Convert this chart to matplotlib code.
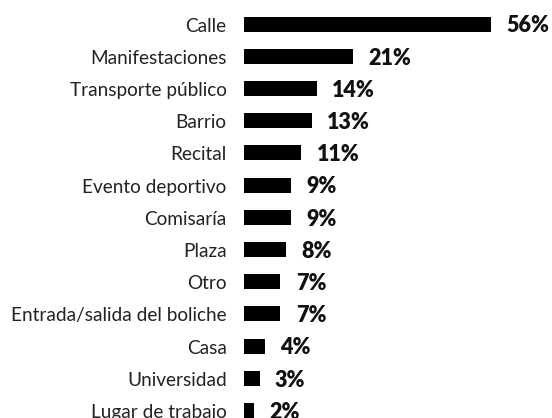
import matplotlib
matplotlib.use("Agg")
import matplotlib.pyplot as plt

categories = ["Calle", "Manifestaciones", "Transporte público", "Barrio", "Recital",
              "Evento deportivo", "Comisaría", "Plaza", "Otro",
              "Entrada/salida del boliche", "Casa", "Universidad", "Lugar de trabajo"]
# bar lengths as drawn in the picture (the "Calle" bar is shortened in the original)
bar_values = [47.5, 21, 14, 13, 11, 9, 9, 8, 7, 7, 4, 3, 2]
value_labels = ["56%", "21%", "14%", "13%", "11%", "9%", "9%", "8%", "7%", "7%", "4%", "3%", "2%"]

W, H = 552, 418
fig = plt.figure(figsize=(W / 100, H / 100), dpi=100)
left_px = 244
ax = fig.add_axes([left_px / W, 0, 1 - left_px / W, 1])

px_per_unit = 5.2
row_px = 32.2
first_center = 24.1
ax.set_xlim(0, (W - left_px) / px_per_unit)
ax.set_ylim(12 + (H - (first_center + 12 * row_px)) / row_px, -first_center / row_px)

bar_h = 0.47
y = list(range(len(categories)))
ax.barh(y, bar_values, height=bar_h, color="black")

for yi, v, lab, cat in zip(y, bar_values, value_labels, categories):
    ax.annotate(lab, (v, yi + bar_h / 2 + 0.02), xytext=(11, 0), textcoords="offset points",
                ha="left", va="baseline", fontsize=15.5, fontweight="heavy",
                family="Lato", color="#111111", annotation_clip=False)
    ax.annotate(cat, (0, yi + bar_h / 2), xytext=(-12.5, 0), textcoords="offset points",
                ha="right", va="baseline", fontsize=13.7, family="Lato",
                color="#222222", annotation_clip=False)

ax.axis("off")
fig.savefig("out.png", dpi=100)
